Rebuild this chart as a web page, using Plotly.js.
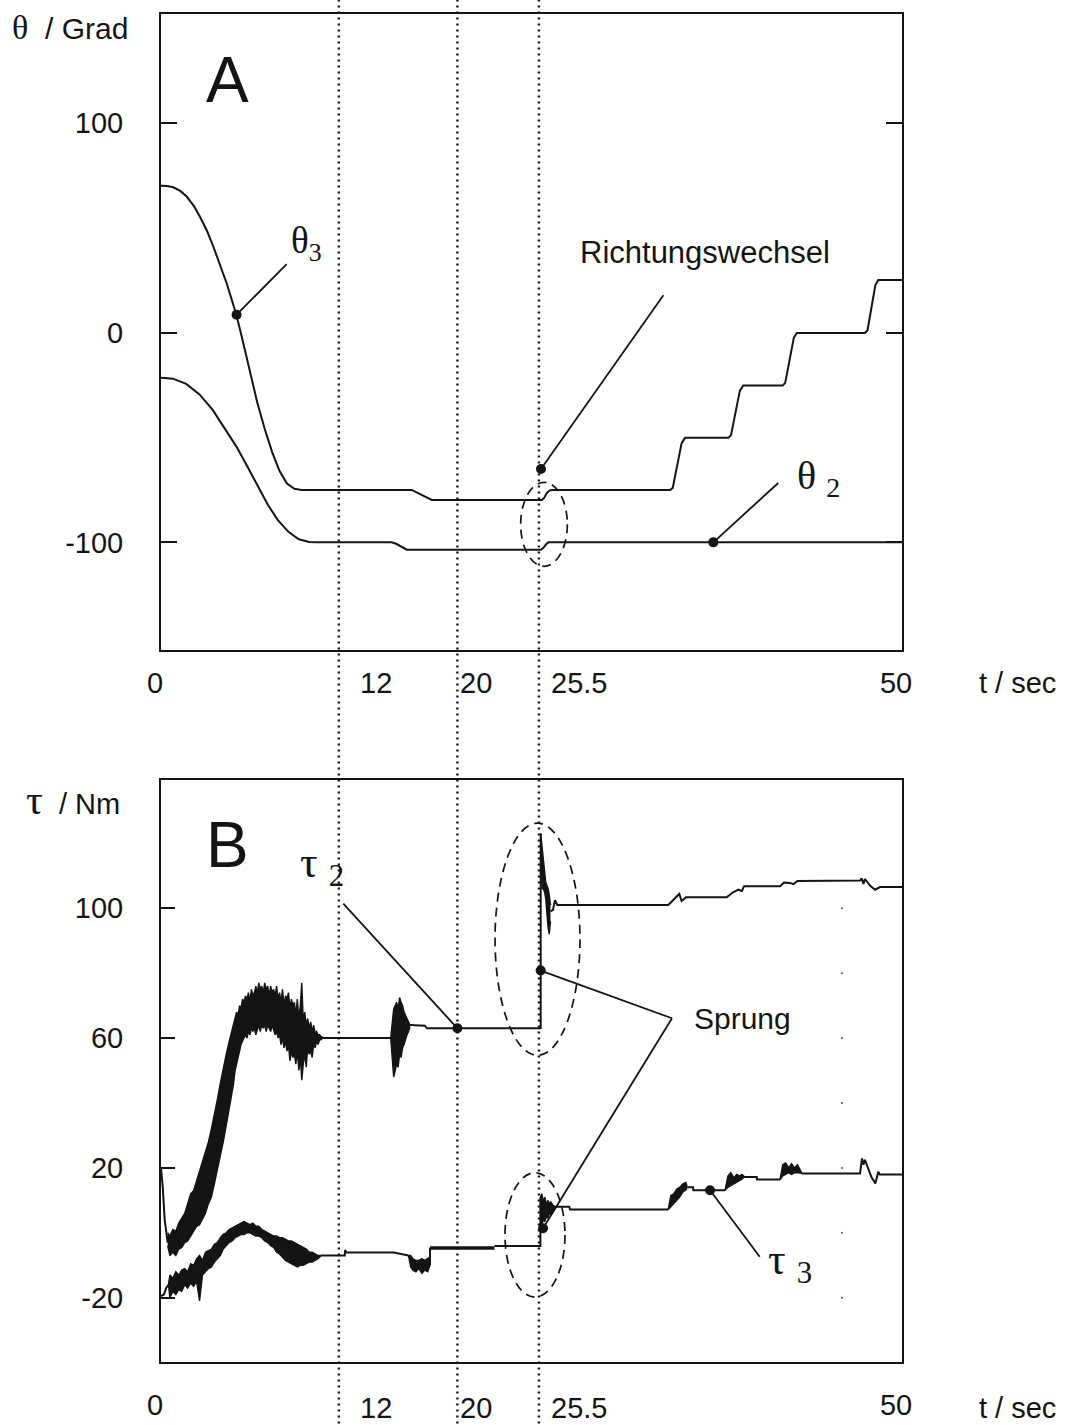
<!DOCTYPE html>
<html><head><meta charset="utf-8">
<script src="https://cdn.plot.ly/plotly-3.0.1.min.js"></script>
<style>html,body{margin:0;padding:0;background:#fff}</style>
</head><body>
<div id="chart" style="width:1068px;height:1425px"></div>
<script>
// ---------------- Panel A: joint angles (degrees) ----------------
const theta3T = [0, 0.4, 0.83, 1.3, 1.73, 2.2, 2.63, 3.1, 3.53, 4.0, 4.43, 4.8, 5.1, 5.45, 5.8, 6.15, 6.5, 7.0, 7.5, 8.0, 8.5, 9.0, 9.5, 16.92, 17.15, 17.6, 18.05, 18.27, 25.7, 25.85, 26.05, 26.25, 26.4, 34.35, 34.53, 34.84, 35.13, 35.36, 38.28, 38.46, 38.77, 39.06, 39.29, 41.95, 42.12, 42.42, 42.7, 42.9, 47.5, 47.67, 47.95, 48.2, 48.4, 50];
const theta3V = [70, 69.8, 69.2, 67.5, 64.8, 60.5, 55.2, 48.5, 41, 32.3, 23.5, 15, 8, -2, -13, -23.5, -33.5, -46, -57, -66, -72, -74.5, -75, -75, -75.8, -77.5, -79.2, -79.8, -79.8, -78.8, -76.3, -75.2, -75, -75, -74.1, -62.2, -52.7, -50.2, -50.2, -49, -37, -27.7, -25.2, -25.2, -24, -12, -2.5, -0.2, -0.2, 1, 13, 22.5, 25, 25];
const theta2T = [0, 0.8, 1.7, 2.6, 3.5, 4.4, 5.1, 5.8, 6.5, 7.2, 7.9, 8.6, 9.3, 10.0, 10.5, 15.57, 15.9, 16.3, 16.58, 25.64, 25.8, 26.0, 26.15, 50];
const theta2V = [-21.5, -22, -24.5, -29.5, -37, -46.5, -54.5, -63.5, -73, -82, -89.5, -95, -98.5, -99.8, -100, -100, -100.8, -102.6, -103.5, -103.5, -102.6, -100.8, -100, -100];

// ---------------- Panel B: joint torques (Nm) ----------------
// tau2: clean parts (null = gap where the noisy band is drawn)
const tau2LineT = [0, 0.12, 0.25, 0.38, 0.45, null, 11.0, 15.5, null, 16.8, 17.8, 17.95, 25.62, 25.62, null, 26.28, 26.45, 26.58, 26.66, 26.74, 34.23, 34.68, 34.97, 35.13, 35.43, 38.17, 38.6, 38.96, 39.2, 39.34, 41.77, 42.04, 42.44, 42.67, 42.94, 47.17, 47.28, 47.4, 47.5, 47.84, 48.18, 48.52, 50];
const tau2LineV = [20, 14, 4, -2, -3, null, 60, 60, null, 64, 63.8, 63, 63, 123, null, 99, 99.5, 102.5, 101.8, 101, 101, 102.9, 104.4, 102.2, 103.4, 103.4, 104.9, 105.7, 105.3, 106.8, 106.8, 107.9, 107.8, 107.4, 108.4, 108.5, 109.2, 107.5, 109, 107, 105.7, 106.5, 106.5];
// tau2 noisy band (lower / upper envelope)
const tau2BandT = [0.45, 0.6, 0.8, 1.0, 1.2, 1.4, 1.6, 1.8, 2.0, 2.2, 2.4, 2.6, 2.8, 3.0, 3.2, 3.4, 3.6, 3.8, 4.0, 4.2, 4.4, 4.6, 4.8,
  4.9, 5.0, 5.1, 5.2, 5.3, 5.4, 5.5, 5.6, 5.7, 5.8, 5.9, 6.0, 6.1, 6.2, 6.3, 6.4, 6.5, 6.6, 6.7, 6.8, 6.9, 7.0, 7.1, 7.2, 7.3, 7.4, 7.5, 7.6, 7.7, 7.8, 7.9, 8.0, 8.1, 8.2, 8.3, 8.4, 8.5, 8.6, 8.7, 8.8, 8.9, 9.0, 9.1, 9.2, 9.3, 9.4, 9.5, 9.6, 9.7, 9.8, 9.9, 10.0, 10.1, 10.2, 10.3, 10.4, 10.5, 10.6, 10.7, 10.8, 10.9, 11.0];
const tau2BandLo = [-4, -7, -6, -7, -5, -4.5, -3, -2.5, -1, 0.5, 2, 2.5, 4.5, 6, 9, 11, 15, 19, 24, 28, 33, 38, 43,
  46, 50, 52, 55, 56, 58, 59, 60, 61, 60, 62, 61, 63, 62, 63, 61, 63, 64, 62, 64, 63, 64, 62, 64, 63, 62, 64, 62, 61, 62, 60, 61, 58, 60, 57, 59, 56, 58, 53, 56, 54, 55, 52, 56, 50, 54, 47, 52, 55, 51, 57, 55, 56, 54, 58, 57, 59, 58, 59.5, 59.5, 60, 60];
const tau2BandHi = [0, -1, 1, 0.5, 3, 4.5, 6, 9, 12, 13, 16, 19, 22, 25, 28, 32, 36, 41, 46, 51, 55, 59, 63,
  64, 66, 68, 67, 70, 69, 72, 71, 73, 72, 74, 71, 75, 73, 74, 76, 74, 77, 75, 76, 74, 77, 75, 76, 73, 76, 74, 75, 73, 76, 72, 74, 71, 75, 70, 73, 72, 74, 69, 72, 70, 71, 67, 72, 66, 70, 77, 65, 68, 64, 66, 63, 65, 62, 64, 61.5, 62, 61, 61, 60.5, 60.3, 60];
const tau2BurstT = [15.5, 15.6, 15.7, 15.8, 15.9, 16.0, 16.1, 16.2, 16.3, 16.4, 16.5, 16.6, 16.7, 16.8];
const tau2BurstLo = [60, 54, 48, 50, 52, 51, 55, 54, 57, 58, 60, 61, 62, 63.5];
const tau2BurstHi = [60, 66, 69, 70, 71, 69, 72.5, 71, 70, 68, 67, 66, 65, 64];
const tau2SpikeT = [25.62, 25.66, 25.72, 25.8, 25.88, 25.96, 26.04, 26.12, 26.2, 26.28];
const tau2SpikeLo = [118, 110, 106, 106, 105, 103, 98, 94, 92, 96];
const tau2SpikeHi = [123, 121, 119, 116, 112, 108, 107, 106, 104, 101];

// tau3: clean parts
const tau3LineT = [0, 0.2, 0.35, 0.5, null, 10.8, 12.4, 12.42, 12.46, 12.5, 15.7, 16.7, null, 18.15, 18.15, null, 22.5, 25.6, 25.6, null, 26.6, 27.55, 27.6, 34.23, null, 35.5, 35.9, 35.92, 38.06, null, 39.34, 40.2, 40.22, 41.77, null, 43.23, 47.17, 47.3, 47.4, 47.5, 47.65, 47.8, 47.95, 48.1, 48.2, 48.3, 48.4, 48.5, 50];
const tau3LineV = [-19.5, -19, -17, -16, null, -7, -7, -5.3, -5.5, -6, -6.1, -7, null, -10, -4.6, null, -4.1, -4.1, 11, null, 8, 8, 7.2, 7.2, null, 14, 14, 13.1, 13.1, null, 17.2, 17.2, 16.4, 16.4, null, 18.3, 18.3, 22.9, 21, 22.5, 20.5, 19, 17, 16, 15.2, 17, 18.8, 18, 18];
const tau3ThickT = [18.15, 22.5];
const tau3ThickV = [-4.65, -4.65];
// tau3 noisy bands
const tau3BandT = [0.5, 0.6, 0.8, 1.0, 1.2, 1.4, 1.6, 1.8, 2.0, 2.2, 2.4, 2.6, 2.8, 3.0, 3.2, 3.4, 3.6, 3.8, 4.0, 4.2, 4.4, 4.6, 4.8, 5.0, 5.2, 5.4, 5.6, 5.8, 6.0, 6.2, 6.4, 6.6, 6.8, 7.0, 7.2, 7.4, 7.6, 7.8, 8.0, 8.2, 8.4, 8.6, 8.8, 9.0, 9.2, 9.4, 9.6, 9.8, 10.0, 10.2, 10.4, 10.6, 10.8];
const tau3BandLo = [-16, -20, -18, -19, -17.5, -18, -16, -17, -15.5, -16.5, -15, -21, -13, -12, -11, -10.5, -9, -8, -7, -5, -4, -3, -2.5, -1.5, -1, -0.5, -0.5, 0, 0, -0.5, -1, -1, -1.5, -2.5, -3, -4, -4.5, -6, -6.5, -7.5, -8.5, -9, -9.5, -10, -10.5, -10, -10, -9.5, -9, -9, -8.5, -8, -7];
const tau3BandHi = [-16, -13, -14, -12, -13, -11.5, -11, -12, -9.5, -10, -8, -7, -8.5, -6, -5.5, -5, -3.5, -3, -1.5, -0.5, 0, 1, 1.5, 2, 2.5, 3, 3.5, 3, 2.5, 3, 2, 2, 1, 0.5, 0, -0.5, -1, -1, -1.5, -1.5, -2, -2.5, -2.5, -3, -3.5, -4, -4.5, -5, -6, -6, -6.5, -7, -7];
const tau3Blob1T = [16.7, 16.85, 17.0, 17.2, 17.4, 17.6, 17.8, 18.0, 18.15];
const tau3Blob1Lo = [-7, -10.5, -11.5, -12, -11, -12.5, -11.5, -12, -10];
const tau3Blob1Hi = [-7, -7, -8, -8.5, -8.5, -8, -8.5, -8, -7.5];
const tau3Blob2T = [25.6, 25.7, 25.8, 25.9, 26.0, 26.1, 26.2, 26.3, 26.45, 26.6];
const tau3Blob2Lo = [1, 3, 4, 3.5, 5, 4.5, 6, 5.5, 6.5, 7.5];
const tau3Blob2Hi = [11, 12, 9.5, 11, 8.5, 10, 9, 9.5, 8.5, 8];
const tau3Bump1T = [34.23, 34.4, 34.6, 34.8, 35.0, 35.2, 35.4, 35.5];
const tau3Bump1Lo = [7.2, 8, 9, 10, 11, 12.5, 13, 13.5];
const tau3Bump1Hi = [7.2, 11.5, 12, 13.5, 14, 15, 15.5, 14.5];
const tau3Bump2T = [38.06, 38.25, 38.45, 38.65, 38.85, 39.05, 39.2, 39.34];
const tau3Bump2Lo = [13.1, 14, 14.5, 15, 15.5, 16, 16.5, 17.2];
const tau3Bump2Hi = [13.1, 17.5, 18.5, 17, 18, 17.5, 18, 17.5];
const tau3Bump3T = [41.77, 41.95, 42.15, 42.35, 42.55, 42.75, 42.95, 43.1, 43.23];
const tau3Bump3Lo = [16.4, 17.5, 18, 18.5, 18, 18.5, 18.5, 18.3, 18.3];
const tau3Bump3Hi = [16.4, 21, 21.5, 20, 21.3, 20, 21, 19.5, 18.5];

// callout points
const calloutA_T = [5.1, 25.64, 37.27];
const calloutA_V = [8.5, -65, -100];
const calloutB_T = [20, 25.62, 25.78, 37.05];
const calloutB_V = [63, 80.8, 1.4, 13.1];
// stray right-side tick dots in panel B
const strayT = [45.95, 45.95, 45.95, 45.95, 45.95, 45.95, 45.95];
const strayV = [100, 80, 60, 40, 20, 0, -20];

// time markers (dotted lines)
const markerTimes = [12, 20, 25.5];
const markerLabels = ['12', '20', '25.5'];

// tick labels
const angleTicks = [-100, 0, 100];
const torqueTicks = [-20, 20, 60, 100];
const timeTicks = [0, 50];

// ---------------- build ----------------
const INK = '#141414';
const SANS = 'Liberation Sans, Arial, sans-serif';
const SERIF = 'Liberation Serif, Times New Roman, serif';

function lineTrace(t, v, xa, ya, w) {
  return {x: t, y: v, xaxis: xa, yaxis: ya, type: 'scatter', mode: 'lines',
          connectgaps: false, line: {color: INK, width: w || 2}, hoverinfo: 'skip'};
}
function band(t, lo, hi, xa, ya) {
  return [
    {x: t, y: lo, xaxis: xa, yaxis: ya, type: 'scatter', mode: 'lines', line: {color: INK, width: 1.4}, hoverinfo: 'skip'},
    {x: t, y: hi, xaxis: xa, yaxis: ya, type: 'scatter', mode: 'lines', line: {color: INK, width: 1.4},
     fill: 'tonexty', fillcolor: INK, hoverinfo: 'skip'}
  ];
}

const data = [
  lineTrace(theta3T, theta3V, 'x', 'y'),
  lineTrace(theta2T, theta2V, 'x', 'y'),
  ...band(tau2BandT, tau2BandLo, tau2BandHi, 'x2', 'y2'),
  ...band(tau2BurstT, tau2BurstLo, tau2BurstHi, 'x2', 'y2'),
  ...band(tau2SpikeT, tau2SpikeLo, tau2SpikeHi, 'x2', 'y2'),
  ...band(tau3BandT, tau3BandLo, tau3BandHi, 'x2', 'y2'),
  ...band(tau3Blob1T, tau3Blob1Lo, tau3Blob1Hi, 'x2', 'y2'),
  ...band(tau3Blob2T, tau3Blob2Lo, tau3Blob2Hi, 'x2', 'y2'),
  ...band(tau3Bump1T, tau3Bump1Lo, tau3Bump1Hi, 'x2', 'y2'),
  ...band(tau3Bump2T, tau3Bump2Lo, tau3Bump2Hi, 'x2', 'y2'),
  ...band(tau3Bump3T, tau3Bump3Lo, tau3Bump3Hi, 'x2', 'y2'),
  lineTrace(tau2LineT, tau2LineV, 'x2', 'y2'),
  lineTrace(tau3LineT, tau3LineV, 'x2', 'y2'),
  lineTrace(tau3ThickT, tau3ThickV, 'x2', 'y2', 3.5),
  {x: calloutA_T, y: calloutA_V, xaxis: 'x', yaxis: 'y', type: 'scatter', mode: 'markers',
   marker: {color: INK, size: 10}, hoverinfo: 'skip'},
  {x: calloutB_T, y: calloutB_V, xaxis: 'x2', yaxis: 'y2', type: 'scatter', mode: 'markers',
   marker: {color: INK, size: 10}, hoverinfo: 'skip'},
  {x: strayT, y: strayV, xaxis: 'x2', yaxis: 'y2', type: 'scatter', mode: 'markers',
   marker: {color: '#555', size: 2}, hoverinfo: 'skip'}
];

// page geometry helpers (pixel -> paper)
const L = 161, R = 902, T = 14, B = 1362;
const PX = px => (px - L) / (R - L);
const PY = py => (B - py) / (B - T);

const shapes = [];
markerTimes.forEach(t => shapes.push({type: 'line', xref: 'x', yref: 'paper', x0: t, x1: t,
  y0: -0.05, y1: 1.012, line: {color: INK, width: 2.4, dash: '2px,4px'}, layer: 'above'}));
function seg(xr, yr, x0, y0, x1, y1) {
  shapes.push({type: 'line', xref: xr, yref: yr, x0, y0, x1, y1, line: {color: INK, width: 1.8}});
}
function ell(xr, yr, x0, x1, y0, y1) {
  shapes.push({type: 'circle', xref: xr, yref: yr, x0, x1, y0, y1, line: {color: INK, width: 1.7, dash: '9px,6px'}});
}
seg('x', 'y', 5.1, 8.5, 8.48, 32.6);
seg('x', 'y', 25.64, -65, 33.9, 17.8);
seg('x', 'y', 37.27, -100, 41.65, -71.7);
seg('x2', 'y2', 20, 63, 12.3, 101.4);
seg('x2', 'y2', 25.62, 80.8, 34.48, 66.1);
seg('x2', 'y2', 25.78, 1.4, 34.48, 66.1);
seg('x2', 'y2', 37.05, 13.1, 40.4, -7.4);
ell('x', 'y', 24.27, 27.42, -111.4, -71.4);
ell('x2', 'y2', 22.54, 28.27, 54.7, 126.2);
ell('x2', 'y2', 23.21, 27.26, -19.8, 18.5);

const annotations = [];
function txt(text, px, py, size, family, anchor) {
  annotations.push({text, x: PX(px), y: PY(py), xref: 'paper', yref: 'paper', showarrow: false,
    xanchor: anchor || 'center', yanchor: 'middle', font: {size, family, color: INK}});
}
txt('<span style="font-family:Liberation Serif;font-size:34px">θ</span>\u00a0\u00a0/ Grad', 10, 27, 30, SANS, 'left');
txt('A', 227, 80, 64, SANS);
txt('Richtungswechsel', 705, 253, 31, SANS);
txt('θ<sub>3</sub>', 306, 243, 37, SERIF);
txt('θ <sub>2</sub>', 818, 478, 40, SERIF);
txt('<span style="font-family:Liberation Serif;font-size:42px">τ</span>\u00a0\u00a0/ Nm', 24, 800, 29, SANS, 'left');
txt('B', 227, 845, 64, SANS);
txt('τ <sub>2</sub>', 322, 866, 44, SERIF);
txt('Sprung', 742, 1018, 30, SANS);
txt('τ <sub>3</sub>', 790, 1262, 44, SERIF);
[[683], [1408]].forEach(([py]) => {
  markerTimes.forEach((t, i) => {
    const cx = [376, 476, 579][i];
    txt(markerLabels[i], cx, py, 29, SANS);
  });
  txt('t / sec', 1018, py, 29, SANS);
});

const axBase = {showgrid: false, zeroline: false, showline: true, linecolor: INK, linewidth: 2,
  tickfont: {size: 29, family: SANS, color: INK}, fixedrange: true};
const xBase = Object.assign({}, axBase, {range: [0, 50], domain: [0, 1], ticks: '', mirror: true,
  tickmode: 'array', tickvals: timeTicks, ticktext: timeTicks.map(String), ticklabelshift: -6});

const layout = {
  width: 1068, height: 1425,
  margin: {l: L, r: 1068 - R, t: T, b: 1425 - B},
  paper_bgcolor: '#fff', plot_bgcolor: '#fff', showlegend: false,
  xaxis: Object.assign({}, xBase, {anchor: 'y', ticklabelstandoff: 6}),
  yaxis: Object.assign({}, axBase, {anchor: 'x', domain: [PY(650), 1], range: [-151.3, 151.8],
    tickmode: 'array', tickvals: angleTicks, ticktext: angleTicks.map(String), ticks: 'inside', ticklen: 16, tickwidth: 2,
    tickcolor: INK, mirror: 'ticks', ticklabelstandoff: 30}),
  xaxis2: Object.assign({}, xBase, {anchor: 'y2', ticklabelstandoff: 16}),
  yaxis2: Object.assign({}, axBase, {anchor: 'x2', domain: [0, PY(780)], range: [-39.8, 139.5],
    tickmode: 'array', tickvals: torqueTicks, ticktext: torqueTicks.map(String), ticks: 'inside', ticklen: 14, tickwidth: 2,
    tickcolor: INK, mirror: true, ticklabelstandoff: 30}),
  shapes, annotations
};

Plotly.newPlot('chart', data, layout, {displayModeBar: false, staticPlot: true});
</script>
</body></html>
